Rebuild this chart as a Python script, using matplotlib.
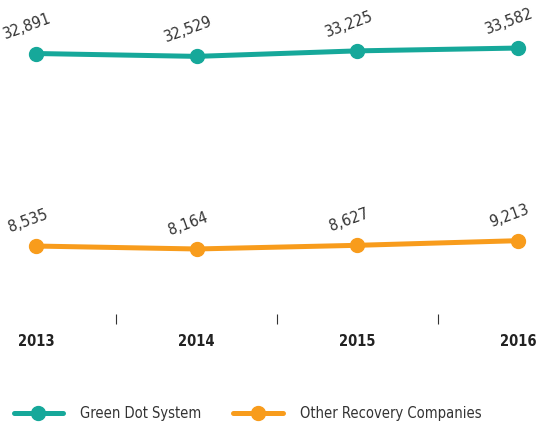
import matplotlib.pyplot as plt

years = [2013, 2014, 2015, 2016]
green_dot = [32891, 32529, 33225, 33582]
other_companies = [8535, 8164, 8627, 9213]
series_names = ['Green Dot System', 'Other Recovery Companies']

teal = '#16a89a'
orange = '#f89c1c'
text_col = '#333333'

fig = plt.figure(figsize=(5.39, 4.29), dpi=100)
ax = fig.add_axes([0, 0.2692, 1, 0.7308])

for vals, col, name in [(green_dot, teal, series_names[0]), (other_companies, orange, series_names[1])]:
    ax.plot(years, vals, color=col, lw=3.6, marker='o', ms=10, clip_on=False,
            solid_capstyle='round', label=name)
    for x, v in zip(years, vals):
        ax.annotate(f'{v:,}', (x, v), xytext=(-6, 8), textcoords='offset points',
                    ha='center', va='bottom', rotation=20, fontsize=11.5,
                    family='DejaVu Sans', stretch='condensed', color=text_col)

ax.set_xlim(2012.776, 2016.131)
ax.set_ylim(0, 39660)
for s in ax.spines.values():
    s.set_visible(False)
ax.set_yticks([])
ax.set_xticks(years)
ax.set_xticklabels([str(y) for y in years], fontsize=10.5, fontweight='bold',
                   family='DejaVu Sans', stretch='condensed', color='#222222')
ax.tick_params(axis='x', length=0, pad=15)
ax.set_xticks([2013.5, 2014.5, 2015.5], minor=True)
ax.tick_params(axis='x', which='minor', length=7, width=0.8, color='#333333')

fig.legend(loc='center left', bbox_to_anchor=(0.001, 0.035), ncol=2, frameon=False,
           prop={'family': 'DejaVu Sans', 'stretch': 'condensed', 'size': 10.5},
           labelcolor=text_col,
           handlelength=3.4, handletextpad=1.15, columnspacing=2.2)

fig.savefig('out.png', dpi=100)
